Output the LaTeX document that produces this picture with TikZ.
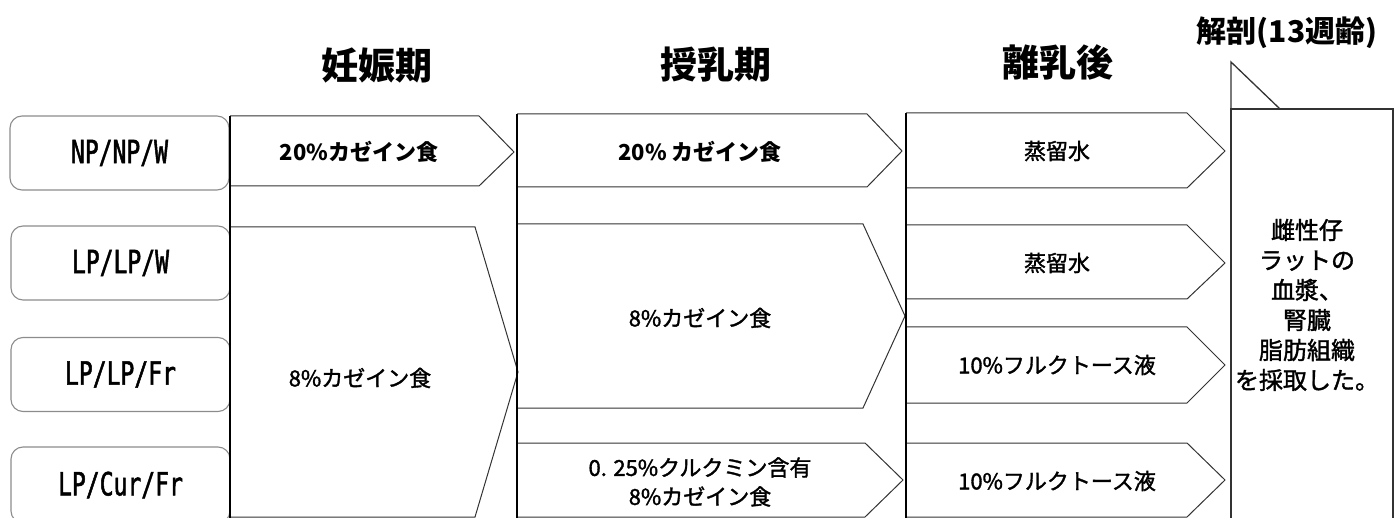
\documentclass[tikz,border=0pt]{standalone}
\usepackage{fontspec}
\setmainfont{Noto Sans CJK JP}
\newfontfamily\labfont[FakeStretch=0.72, FakeBold=1.5]{DejaVu Sans Mono}
\newfontfamily\medfont[FakeBold=1.5]{Noto Sans CJK JP}
\begin{document}
\begin{tikzpicture}[x=1pt,y=-1pt,
  lab/.style={draw=black!45, line width=1.1pt, rounded corners=12pt, fill=white,
    minimum width=219pt, minimum height=74pt, inner sep=0pt,
    font=\labfont\fontsize{32}{32}\selectfont},
  arr/.style={draw=black!80, line width=1pt},
  vline/.style={draw=black, line width=1.8pt},
  head/.style={font=\bfseries\fontsize{37}{40}\selectfont, inner sep=0pt},
  txt/.style={font=\medfont\fontsize{22}{29}\selectfont, inner sep=0pt, align=center},
  btxt/.style={font=\bfseries\fontsize{22}{29}\selectfont, inner sep=0pt, align=center},
  dtxt/.style={font=\medfont\fontsize{24}{30}\selectfont, inner sep=0pt, align=center}
]
\useasboundingbox (0,0) rectangle (1400,518);

% headings
\node[head] (h1) at (377,65) {妊娠期};
\node[head] (h2) at (716,65) {授乳期};
\node[head] (h3) at (1058,62) {離乳後};
\node[font=\bfseries\fontsize{30}{32}\selectfont, inner sep=0pt] (h4) at (1287,33) {解剖(13週齢)};

% group labels
\node[lab] (g1) at (119.5,153) {NP/NP/W};
\node[lab] (g2) at (120.5,263) {LP/LP/W};
\node[lab] (g3) at (120.5,374.5) {LP/LP/Fr};
\node[lab, minimum height=76pt] (g4) at (120.5,485) {LP/Cur/Fr};

% pregnancy
\draw[arr] (230,116) -- (479,116) -- (514,152) -- (479,186) -- (230,186);
\draw[arr] (230,227) -- (475,227) -- (518,372) -- (475,517) -- (230,517);
\draw[vline] (230,116) -- (230,522);
\node[btxt] (p1) at (359,152) {20\%カゼイン食};
\node[txt] (p2) at (360,378) {8\%カゼイン食};

% lactation
\draw[arr] (517,114) -- (867,114) -- (902,151) -- (867,187) -- (517,187);
\draw[arr] (517,224) -- (863,224) -- (905,316) -- (863,408) -- (517,408);
\draw[arr] (517,443) -- (865,443) -- (903,480) -- (865,517) -- (517,517);
\draw[vline] (517,114) -- (517,522);
\node[btxt] (l1) at (700,152) {20\% カゼイン食};
\node[txt] (l2) at (700,318) {8\%カゼイン食};
\node[txt] (l3) at (700,482) {0. 25\%クルクミン含有\\8\%カゼイン食};

% post-weaning
\draw[arr] (906,113) -- (1187,113) -- (1225,151) -- (1187,188) -- (906,188);
\draw[arr] (906,225) -- (1187,225) -- (1225,263) -- (1187,299) -- (906,299);
\draw[arr] (906,327) -- (1187,327) -- (1225,365) -- (1187,403) -- (906,403);
\draw[arr] (906,443) -- (1187,443) -- (1225,480) -- (1187,517) -- (906,517);
\draw[vline] (906,113) -- (906,522);
\node[txt] (w1) at (1057,151) {蒸留水};
\node[txt] (w2) at (1057,263) {蒸留水};
\node[txt] (w3) at (1057,365) {10\%フルクトース液};
\node[txt] (w4) at (1057,481) {10\%フルクトース液};

% dissection
\draw[arr, line width=1.3pt] (1231,522) -- (1231,109) -- (1393,109) -- (1393,522);
\draw[arr, line width=1.3pt] (1231,109) -- (1231,62) -- (1280,109);
\node[dtxt] (d1) at (1307,305) {雌性仔\\ラットの\\血漿、\\腎臓\\脂肪組織\\を採取した。};
\end{tikzpicture}
\end{document}
